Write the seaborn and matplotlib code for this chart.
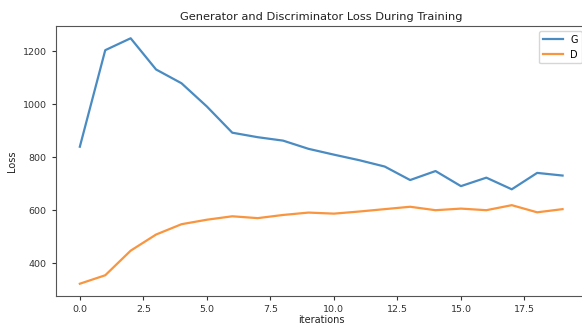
import matplotlib
matplotlib.use("Agg")
import matplotlib.pyplot as plt
import seaborn as sns
import pandas as pd

# Per-iteration losses of the generator and discriminator
iterations = list(range(20))
g_losses = [840, 1205, 1250, 1132, 1080, 992, 893, 876, 863, 832,
            810, 789, 765, 714, 748, 691, 723, 679, 741, 731]
d_losses = [322, 354, 447, 508, 547, 564, 577, 570, 582, 591,
            587, 595, 604, 613, 600, 606, 600, 619, 592, 604]
series_labels = ["G", "D"]

df = pd.DataFrame({"iter": iterations, "G": g_losses, "D": d_losses})

plt.rcParams["font.family"] = ["DejaVu Sans"]
fig = plt.figure(figsize=(5.82, 3.25), dpi=100)
ax = fig.add_axes([55.7 / 582, 29 / 325, 531 / 582, 270 / 325])

palette = ["#4a8bc2", "#f9953f"]
for name, color in zip(series_labels, palette):
    sns.lineplot(data=df, x="iter", y=name, ax=ax, color=color,
                 linewidth=1.6, label=name)

ax.set_xlim(-0.95, 19.95)
for side in ax.spines.values():
    side.set_color("#555555")
ax.set_title("Generator and Discriminator Loss During Training",
             fontsize=8.2, pad=4, color="#222222")
ax.set_xlabel("iterations", fontsize=7, labelpad=1, color="#222222")
ax.set_ylabel("Loss", fontsize=7, labelpad=4, color="#222222")
ax.tick_params(labelsize=6.8, length=3, colors="#333333")
ax.legend(loc="upper right", fontsize=7, handlelength=2.0)

fig.savefig("out.png", dpi=100)
